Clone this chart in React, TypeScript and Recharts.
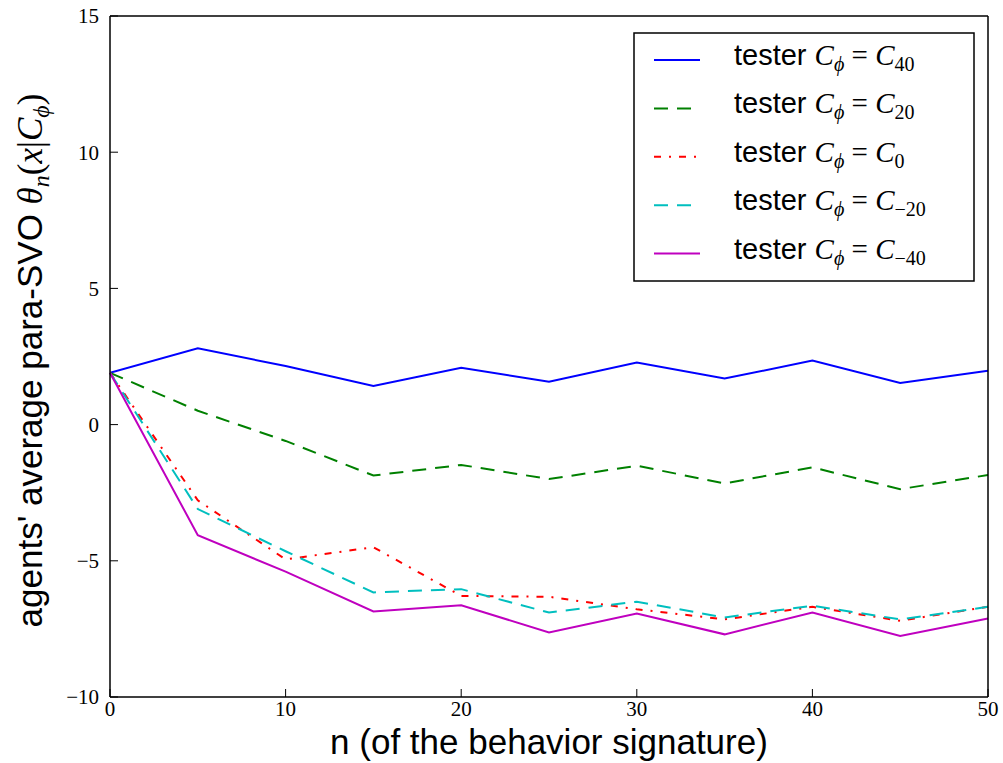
import { LineChart, Line, XAxis, YAxis, Legend, Label } from "recharts"

document.body.style.margin = "0"
document.documentElement.style.overflow = "hidden"

const nValues = [0, 5, 10, 15, 20, 25, 30, 35, 40, 45, 50]
const c40 = [1.9, 2.8, 2.15, 1.42, 2.09, 1.57, 2.28, 1.69, 2.35, 1.53, 1.98]
const c20 = [1.9, 0.51, -0.6, -1.87, -1.48, -2.0, -1.51, -2.16, -1.57, -2.37, -1.85]
const c0 = [1.9, -2.78, -4.95, -4.5, -6.29, -6.32, -6.78, -7.15, -6.69, -7.2, -6.69]
const cm20 = [1.9, -3.1, -4.65, -6.16, -6.04, -6.9, -6.5, -7.08, -6.65, -7.15, -6.69]
const cm40 = [1.9, -4.06, -5.4, -6.86, -6.63, -7.63, -6.94, -7.7, -6.9, -7.76, -7.12]

const xTicks = [0, 10, 20, 30, 40, 50]
const yTicks = [-10, -5, 0, 5, 10, 15]

// the blue series sits on the top/right axes so that recharts draws the full frame
const series = [
  { key: "c40", sub: "40", color: "#0000ff", dash: undefined, xId: "top", yId: "right" },
  { key: "c20", sub: "20", color: "#008000", dash: "14 9", xId: "bottom", yId: "left" },
  { key: "c0", sub: "0", color: "#ff0000", dash: "7 8 2 8", xId: "bottom", yId: "left" },
  { key: "cm20", sub: "\u221220", color: "#00bfbf", dash: "14 9", xId: "bottom", yId: "left" },
  { key: "cm40", sub: "\u221240", color: "#bf00bf", dash: undefined, xId: "bottom", yId: "left" },
]

const data = nValues.map((n, i) => ({
  n,
  c40: c40[i],
  c20: c20[i],
  c0: c0[i],
  cm20: cm20[i],
  cm40: cm40[i],
}))

const sans = "'Liberation Sans', Arial, sans-serif"
const serif = "'Liberation Serif', 'Times New Roman', serif"
const tickStyle = { fontFamily: serif, fontSize: 21, fill: "#000" }
const frame = { stroke: "#000", strokeWidth: 1.5 }

function XLabel(props: any) {
  const vb = props.viewBox
  return (
    <text x={vb.x + vb.width / 2} y={vb.y + 57} textAnchor="middle" fontFamily={sans} fontSize={35} fill="#000">
      n (of the behavior signature)
    </text>
  )
}

function YLabel(props: any) {
  const vb = props.viewBox
  const cx = 42
  const cy = vb.y + vb.height / 2 + 4
  return (
    <text x={cx} y={cy} transform={`rotate(-90 ${cx} ${cy})`} textAnchor="middle" fontFamily={sans} fontSize={35} fill="#000">
      agents' average para-SVO{" "}
      <tspan fontFamily={serif} fontStyle="italic">θ</tspan>
      <tspan fontFamily={serif} fontStyle="italic" fontSize={24} dy={7}>n</tspan>
      <tspan fontFamily={serif} dy={-7}>(</tspan>
      <tspan fontFamily={serif} fontStyle="italic">x</tspan>
      <tspan fontFamily={serif}>|</tspan>
      <tspan fontFamily={serif} fontStyle="italic">C</tspan>
      <tspan fontFamily={serif} fontStyle="italic" fontSize={24} dy={7}>ϕ</tspan>
      <tspan fontFamily={serif} dy={-7}>)</tspan>
    </text>
  )
}

function LegendBox() {
  const rowY = (i: number) => 28 + i * 48.4
  return (
    <svg width={342} height={250} style={{ display: "block" }}>
      <rect x={1} y={1} width={340} height={248} fill="#fff" stroke="#000" strokeWidth={1.5} />
      {series.map((s, i) => (
        <g key={s.key}>
          <line x1={21} x2={67} y1={rowY(i)} y2={rowY(i)} stroke={s.color} strokeWidth={2} strokeDasharray={s.dash} />
          <text x={101} y={rowY(i) + 5} fontFamily={sans} fontSize={29} fill="#000">
            tester{" "}
            <tspan fontFamily={serif} fontStyle="italic">C</tspan>
            <tspan fontFamily={serif} fontStyle="italic" fontSize={20} dy={6}>ϕ</tspan>
            <tspan fontFamily={serif} dy={-6}> = </tspan>
            <tspan fontFamily={serif} fontStyle="italic">C</tspan>
            <tspan fontFamily={serif} fontSize={20} dy={6}>{s.sub}</tspan>
          </text>
        </g>
      ))}
    </svg>
  )
}

export default function App() {
  return (
    <div style={{ width: 1003, height: 763 }}>
      <LineChart width={1003} height={763} data={data} margin={{ top: 15, right: 14, bottom: 0, left: 0 }}>
        <XAxis
          xAxisId="bottom"
          dataKey="n"
          type="number"
          domain={[0, 50]}
          ticks={xTicks}
          height={66}
          tickSize={-8}
          tickMargin={12}
          tick={tickStyle}
          axisLine={frame}
          tickLine={{ stroke: "#000" }}
          label={<Label content={XLabel} />}
        />
        <XAxis
          xAxisId="top"
          dataKey="n"
          orientation="top"
          type="number"
          domain={[0, 50]}
          allowDataOverflow
          ticks={xTicks}
          height={1}
          tickSize={-8}
          tick={false}
          axisLine={frame}
          tickLine={{ stroke: "#000" }}
        />
        <YAxis
          yAxisId="left"
          type="number"
          domain={[-10, 15]}
          allowDataOverflow
          ticks={yTicks}
          width={110}
          tickSize={-8}
          tickMargin={19}
          tick={tickStyle}
          tickFormatter={(v: number) => (v < 0 ? `\u2212${Math.abs(v)}` : `${v}`)}
          axisLine={frame}
          tickLine={{ stroke: "#000" }}
          label={<Label content={YLabel} />}
        />
        <YAxis
          yAxisId="right"
          orientation="right"
          type="number"
          domain={[-10, 15]}
          allowDataOverflow
          ticks={yTicks}
          width={1}
          tickSize={-8}
          tick={false}
          axisLine={frame}
          tickLine={{ stroke: "#000" }}
        />
        <Legend
          layout="vertical"
          align="center"
          verticalAlign="middle"
          content={() => <LegendBox />}
          wrapperStyle={{ position: "absolute", left: 633, top: 32, width: 342, height: 250 }}
        />
        {series.map((s) => (
          <Line
            key={s.key}
            xAxisId={s.xId}
            yAxisId={s.yId}
            type="linear"
            dataKey={s.key}
            stroke={s.color}
            strokeWidth={2}
            strokeDasharray={s.dash}
            dot={false}
            activeDot={false}
            isAnimationActive={false}
          />
        ))}
      </LineChart>
    </div>
  )
}
